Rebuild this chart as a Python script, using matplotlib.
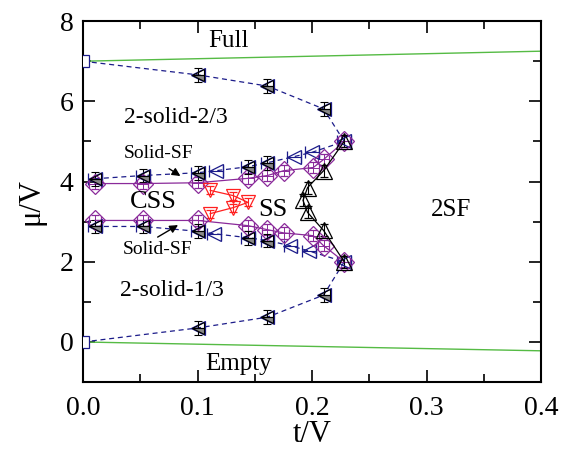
import matplotlib
matplotlib.use('Agg')
import matplotlib.pyplot as plt
from matplotlib import font_manager

# Times-aehnliche Schrift suchen
for f in font_manager.findSystemFonts():
    if 'LiberationSerif' in f or 'Liberation Serif' in f:
        font_manager.fontManager.addfont(f)
plt.rcParams['font.family'] = 'serif'
plt.rcParams['font.serif'] = ['Liberation Serif', 'DejaVu Serif']
plt.rcParams['mathtext.fontset'] = 'stix'

# Phasengrenzen
t_full = [0.0, 0.4]
mu_full = [7.0, 7.25]
t_empty = [0.0, 0.4]
mu_empty = [0.0, -0.22]

# 2-solid-2/3 obere Grenze
t_up = [0.0, 0.1, 0.161, 0.21, 0.228]
mu_up = [7.0, 6.66, 6.38, 5.81, 5.0]
# 2-solid-1/3 untere Grenze
t_lo = [0.0, 0.1, 0.161, 0.21, 0.228]
mu_lo = [0.0, 0.35, 0.62, 1.17, 2.0]

# Solid-SF Grenzen (blaue Dreiecke)
t_ssf_up = [0.0105, 0.052, 0.1, 0.116, 0.144, 0.161, 0.184, 0.2, 0.228]
mu_ssf_up = [4.07, 4.15, 4.22, 4.27, 4.37, 4.47, 4.62, 4.73, 5.0]
t_ssf_lo = [0.0105, 0.052, 0.1, 0.114, 0.144, 0.161, 0.181, 0.197, 0.228]
mu_ssf_lo = [2.88, 2.88, 2.76, 2.7, 2.6, 2.53, 2.4, 2.27, 2.0]

# CSS Grenzen (violette Rauten)
t_css_up = [0.0105, 0.052, 0.1, 0.144, 0.161, 0.175, 0.201, 0.21, 0.228]
mu_css_up = [3.95, 3.95, 3.97, 4.08, 4.15, 4.27, 4.35, 4.55, 5.0]
t_css_lo = [0.0105, 0.052, 0.1, 0.144, 0.161, 0.175, 0.201, 0.21, 0.228]
mu_css_lo = [3.03, 3.03, 3.03, 2.9, 2.8, 2.72, 2.65, 2.4, 2.0]

# CSS-SS (rot)
t_red = [0.111, 0.131, 0.144, 0.131, 0.111]
mu_red = [3.78, 3.65, 3.48, 3.35, 3.2]

# SS-2SF (schwarz)
t_blk = [0.228, 0.21, 0.196, 0.192, 0.196, 0.21, 0.228]
mu_blk = [5.0, 4.27, 3.85, 3.53, 3.23, 2.78, 2.0]

# schwarze Punkte mit Fehlerbalken
t_bk = [0.0105, 0.052, 0.1, 0.144, 0.161, 0.21]
mu_bk_up = [4.07, 4.15, 4.22, 4.37, 4.47, 5.81]
mu_bk_lo = [2.88, 2.88, 2.76, 2.6, 2.53, 1.17]
t_bk2 = [0.1, 0.161]
mu_bk2_up = [6.66, 6.38]
mu_bk2_lo = [0.35, 0.62]

navy = '#1c1c8a'
purple = '#8a2a9a'

fig = plt.figure(figsize=(5.77, 4.49), dpi=100)
ax = fig.add_axes([0.144, 0.149, 0.794, 0.804])

ax.plot(t_full, mu_full, color='#55bb44', lw=1)
ax.plot(t_empty, mu_empty, color='#55bb44', lw=1)

ax.plot(t_up, mu_up, color=navy, lw=0.9, dashes=(4, 3))
ax.plot(t_lo, mu_lo, color=navy, lw=0.9, dashes=(4, 3))
ax.plot(t_up[1:4], mu_up[1:4], '<', color=navy, mfc='none', ms=10, mew=0.9)
ax.plot(t_lo[1:4], mu_lo[1:4], '<', color=navy, mfc='none', ms=10, mew=0.9)

ax.errorbar(t_ssf_up, mu_ssf_up, xerr=0.006, fmt='<', ls='--', color=navy, mfc='none',
            ms=10, mew=0.9, lw=0.9, dashes=(4, 3), capsize=4, elinewidth=0.8)
ax.errorbar(t_ssf_lo, mu_ssf_lo, xerr=0.006, fmt='<', ls='--', color=navy, mfc='none',
            ms=10, mew=0.9, lw=0.9, dashes=(4, 3), capsize=4, elinewidth=0.8)

ax.errorbar(t_css_up, mu_css_up, yerr=0.14, xerr=0.005, fmt='D-', color=purple,
            mfc='none', ms=10, mew=0.9, lw=0.9, capsize=3, elinewidth=0.7)
ax.errorbar(t_css_lo, mu_css_lo, yerr=0.14, xerr=0.005, fmt='D-', color=purple,
            mfc='none', ms=10, mew=0.9, lw=0.9, capsize=3, elinewidth=0.7)

for mu in (mu_bk_up, mu_bk_lo):
    ax.errorbar(t_bk, mu, yerr=0.17, fmt='<', color='k', mfc='#8a8a8a',
                mfcalt='none', fillstyle='bottom', ms=9, mew=0.8,
                capsize=3, elinewidth=0.8)
for mu in (mu_bk2_up, mu_bk2_lo):
    ax.errorbar(t_bk2, mu, yerr=0.17, fmt='<', color='k', mfc='#8a8a8a',
                mfcalt='none', fillstyle='bottom', ms=9, mew=0.8,
                capsize=3, elinewidth=0.8)

ax.errorbar(t_red, mu_red, yerr=0.1, fmt='v-', color='#ff2020', mfc='none',
            ms=10, mew=0.9, lw=0.9, capsize=3, elinewidth=0.8)
ax.errorbar(t_blk, mu_blk, yerr=0.15, fmt='^-', color='k', mfc='none',
            ms=11, mew=0.9, lw=0.9, capsize=3, elinewidth=0.8)

ax.plot([0.0, 0.0], [7.0, 0.0], 's', color=navy, mfc='white', ms=8, mew=0.9,
        clip_on=True, zorder=5)

ax.set_xlim(0.0, 0.4)
ax.set_ylim(-1, 8)
ax.set_xticks([0.0, 0.1, 0.2, 0.3, 0.4])
ax.set_xticks([0.05, 0.15, 0.25, 0.35], minor=True)
ax.set_yticks([0, 2, 4, 6, 8])
ax.set_yticks([1, 3, 5, 7], minor=True)
ax.tick_params(which='both', direction='in', labelsize=20, width=1.2,
               top=True, right=True)
ax.tick_params(axis='x', which='major', pad=10)
ax.tick_params(axis='y', which='major', pad=7)
ax.tick_params(which='major', length=8.5)
ax.tick_params(which='minor', length=5.5)
for s in ax.spines.values():
    s.set_linewidth(1.5)
ax.set_xlabel('t/V', fontsize=22, labelpad=-1)
ax.set_ylabel('μ/V', fontsize=22, labelpad=10)

ax.text(0.127, 7.5, 'Full', fontsize=18, ha='center', va='center')
ax.text(0.081, 5.6, '2-solid-2/3', fontsize=17, ha='center', va='center')
ax.text(0.066, 4.7, 'Solid-SF', fontsize=14, ha='center', va='center')
ax.text(0.061, 3.5, 'CSS', fontsize=19, ha='center', va='center')
ax.text(0.166, 3.3, 'SS', fontsize=19, ha='center', va='center')
ax.text(0.321, 3.3, '2SF', fontsize=18, ha='center', va='center')
ax.text(0.065, 2.3, 'Solid-SF', fontsize=14, ha='center', va='center')
ax.text(0.078, 1.28, '2-solid-1/3', fontsize=17, ha='center', va='center')
ax.text(0.136, -0.55, 'Empty', fontsize=18, ha='center', va='center')

ax.annotate('', xy=(0.087, 4.1), xytext=(0.073, 4.36),
            arrowprops=dict(arrowstyle='-|>', color='k', lw=1, mutation_scale=12))
ax.annotate('', xy=(0.085, 2.95), xytext=(0.063, 2.58),
            arrowprops=dict(arrowstyle='-|>', color='k', lw=1, mutation_scale=12))

fig.savefig('out.png', dpi=100)
